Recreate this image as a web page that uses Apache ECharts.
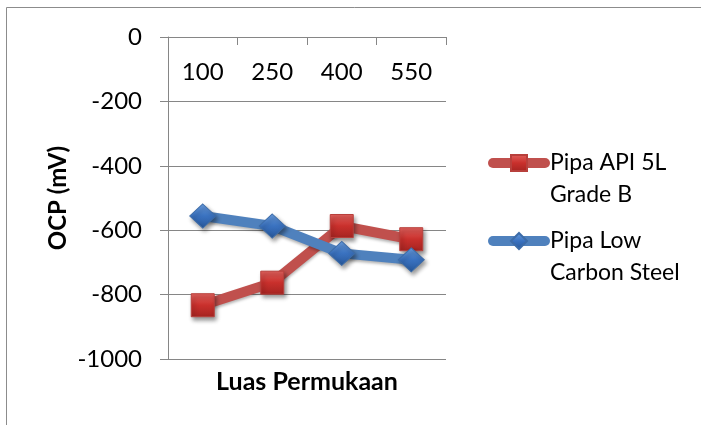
<!DOCTYPE html>
<html>
<head>
<meta charset="utf-8">
<script src="https://cdn.jsdelivr.net/npm/echarts@6/dist/echarts.min.js"></script>
<style>
  html, body { margin: 0; padding: 0; background: #fff; }
  #chart { width: 701px; height: 425px; }
</style>
</head>
<body>
<div id="chart"></div>
<script>
// Surface area categories and OCP readings (mV)
const categories = ['100', '250', '400', '550'];
const seriesNames = ['Pipa API 5L Grade B', 'Pipa Low Carbon Steel'];
const legendLines = [['Pipa API 5L', 'Grade B'], ['Pipa Low', 'Carbon Steel']];
const apiGradeB = [-833, -763, -587, -628];
const lowCarbon = [-556, -587, -672, -692];
const yTicks = [0, -200, -400, -600, -800, -1000];

const FONT = 'Lato, "Open Sans", sans-serif';
const AXIS_GREY = '#868686';

const chart = echarts.init(document.getElementById('chart'), null, { renderer: 'canvas' });

const markerShadow = {
  shadowBlur: 4,
  shadowOffsetX: 2,
  shadowOffsetY: 3,
  shadowColor: 'rgba(0,0,0,0.4)'
};

// One legend per series; a blank first line keeps the icon level with the first text line.
function legendFor(idx, top) {
  return {
    orient: 'vertical',
    left: 488,
    top: top,
    padding: 0,
    itemWidth: 52,
    itemHeight: 20,
    itemGap: 0,
    data: [seriesNames[idx]],
    formatter: () => ' \n' + legendLines[idx].join('\n'),
    lineStyle: { width: 10, cap: 'round' },
    textStyle: {
      fontFamily: FONT,
      fontSize: 23,
      color: '#000',
      lineHeight: 32
    },
    selectedMode: false
  };
}

chart.setOption({
  animation: false,
  backgroundColor: '#fff',
  graphic: [{
    type: 'rect',
    shape: { x: 6.5, y: 7.5, width: 720, height: 440 },
    style: { fill: 'none', stroke: '#8c8c8c', lineWidth: 1 },
    silent: true
  }],
  legend: [legendFor(0, 115), legendFor(1, 193)],
  grid: { left: 168, right: 255, top: 37, bottom: 66, containLabel: false },
  xAxis: {
    type: 'category',
    position: 'top',
    data: categories,
    boundaryGap: true,
    name: 'Luas Permukaan',
    nameLocation: 'middle',
    nameGap: -357,
    nameTextStyle: { fontFamily: FONT, fontSize: 25, fontWeight: 'bold', color: '#000' },
    axisLine: { show: true, onZero: false, lineStyle: { color: AXIS_GREY, width: 1 } },
    axisTick: { show: true, inside: true, length: 8, alignWithLabel: false, lineStyle: { color: AXIS_GREY } },
    axisLabel: { inside: true, margin: 23, fontFamily: FONT, fontSize: 24, color: '#000' },
    splitLine: { show: false }
  },
  yAxis: {
    type: 'value',
    min: -1000,
    max: 0,
    interval: 200,
    name: 'OCP (mV)',
    nameLocation: 'middle',
    nameGap: 98,
    nameRotate: 90,
    nameTextStyle: { fontFamily: FONT, fontSize: 24, fontWeight: 'bold', color: '#000' },
    axisLine: { show: true, lineStyle: { color: AXIS_GREY, width: 1 } },
    axisTick: { show: true, length: 8, lineStyle: { color: AXIS_GREY } },
    axisLabel: {
      margin: 26,
      fontFamily: FONT,
      fontSize: 24,
      color: '#000',
      formatter: v => (yTicks.includes(v) ? String(v) : '')
    },
    splitLine: { show: true, lineStyle: { color: AXIS_GREY, width: 1 } }
  },
  series: [
    {
      name: seriesNames[0],
      type: 'line',
      data: apiGradeB,
      symbol: 'rect',
      symbolSize: 23,
      z: 2,
      lineStyle: {
        color: '#C0504D',
        width: 10,
        shadowBlur: 3,
        shadowOffsetY: 2,
        shadowColor: 'rgba(0,0,0,0.3)'
      },
      itemStyle: Object.assign({
        color: new echarts.graphic.LinearGradient(0, 0, 0, 1, [
          { offset: 0, color: '#e2625e' },
          { offset: 0.5, color: '#c9302c' },
          { offset: 1, color: '#a52421' }
        ]),
        borderColor: '#b8403c',
        borderWidth: 1
      }, markerShadow)
    },
    {
      name: seriesNames[1],
      type: 'line',
      data: lowCarbon,
      symbol: 'diamond',
      symbolSize: [26, 24],
      z: 3,
      lineStyle: {
        color: '#4F81BD',
        width: 10,
        shadowBlur: 3,
        shadowOffsetY: 2,
        shadowColor: 'rgba(0,0,0,0.3)'
      },
      itemStyle: Object.assign({
        color: new echarts.graphic.LinearGradient(0, 0, 0, 1, [
          { offset: 0, color: '#6a9ee0' },
          { offset: 0.5, color: '#3a72c0' },
          { offset: 1, color: '#27579a' }
        ]),
        borderColor: '#3d6ca8',
        borderWidth: 1
      }, markerShadow)
    }
  ]
});
</script>
</body>
</html>
